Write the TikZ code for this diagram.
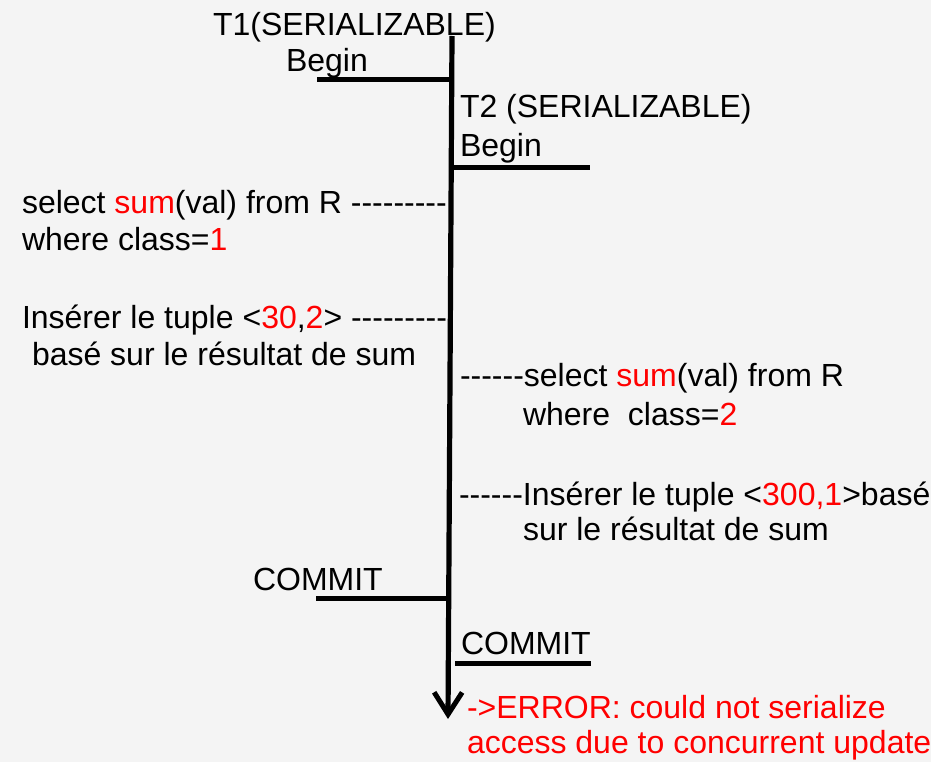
\documentclass[tikz,border=0pt]{standalone}
\usepackage{fontspec}
\newfontfamily\arialfont{Liberation Sans}
\usetikzlibrary{arrows.meta}
\definecolor{paper}{RGB}{244,244,244}
\definecolor{hl}{RGB}{255,0,0}
\newcommand{\hl}[1]{\textcolor{hl}{#1}}
\begin{document}
\begin{tikzpicture}[x=1pt,y=-1pt,
  txt/.style={anchor=base west,inner sep=0pt,outer sep=0pt,
    font=\arialfont\fontsize{32}{37}\selectfont,text=black},
  errtxt/.style={txt,text=hl},
  timeline/.style={line width=5.2pt,
    -{Straight Barb[length=22pt,width=28pt,line width=5pt]}},
  tick/.style={line width=5pt}]
  % page size and background
  \useasboundingbox (0,0) rectangle (931,762);
  \fill[paper] (0,0) rectangle (931,762);

  % time axis
  \coordinate (top) at (452,36);
  \coordinate (tip) at (448,719);
  \draw[timeline] (top) -- (tip);

  % begin / commit markers
  \coordinate (b1l) at (317,80);   \coordinate (b1r) at (453,80);
  \coordinate (b2l) at (451,168);  \coordinate (b2r) at (590,168);
  \coordinate (c1l) at (316,598);  \coordinate (c1r) at (450,598);
  \coordinate (c2l) at (455,663);  \coordinate (c2r) at (591,663);
  \draw[tick] (b1l) -- (b1r);
  \draw[tick] (b2l) -- (b2r);
  \draw[tick] (c1l) -- (c1r);
  \draw[tick] (c2l) -- (c2r);

  % transaction T1 (left)
  \node[txt] (t1) at (213,36) {T1(SERIALIZABLE)};
  \node[txt] (t1begin) at (286,72) {Begin};
  \node[txt] (q1a) at (22,214) {select \hl{sum}(val) from R ---------};
  \node[txt] (q1b) at (22,250) {where class=\hl{1}};
  \node[txt] (i1a) at (22,328) {Insérer le tuple <\hl{30},\hl{2}> ---------};
  \node[txt] (i1b) at (32,365) {basé sur le résultat de sum};
  \node[txt] (t1commit) at (253,590) {COMMIT};

  % transaction T2 (right)
  \node[txt] (t2) at (460,118) {T2 (SERIALIZABLE)};
  \node[txt] (t2begin) at (460,157) {Begin};
  \node[txt] (q2a) at (460,386) {------select \hl{sum}(val) from R};
  \node[txt] (q2b) at (523,425) {where~~class=\hl{2}};
  \node[txt] (i2a) at (459,505) {------Insérer le tuple <\hl{300,1}>basé};
  \node[txt] (i2b) at (523,540) {sur le résultat de sum};
  \node[txt] (t2commit) at (461,654) {COMMIT};

  % outcome
  \node[errtxt] (err1) at (467,718) {->ERROR: could not serialize};
  \node[errtxt] (err2) at (467,753) {access due to concurrent update};
\end{tikzpicture}
\end{document}
